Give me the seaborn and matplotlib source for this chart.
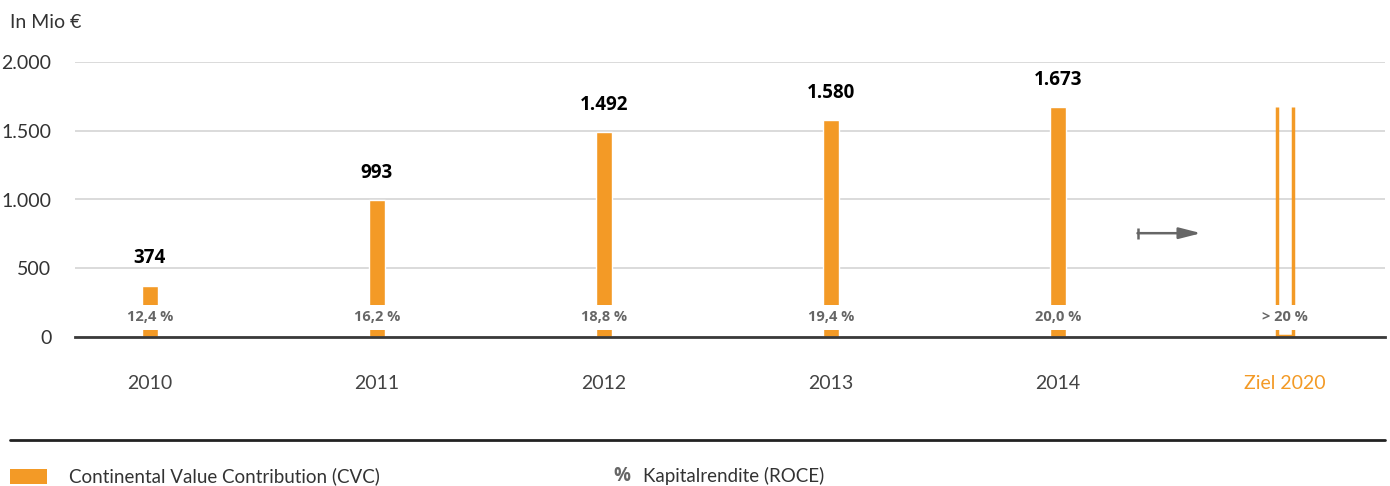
import numpy as np
import matplotlib
matplotlib.use("Agg")
import matplotlib.pyplot as plt
from matplotlib.patches import Rectangle
from matplotlib.lines import Line2D
import seaborn as sns

years = ["2010", "2011", "2012", "2013", "2014", "Ziel 2020"]
cvc = [374, 993, 1492, 1580, 1673, np.nan]
cvc_labels = ["374", "993", "1.492", "1.580", "1.673", ""]
roce_labels = ["12,4 %", "16,2 %", "18,8 %", "19,4 %", "20,0 %", "> 20 %"]
target_height = 1673
yticks = [0, 500, 1000, 1500, 2000]
ytick_labels = ["0", "500", "1.000", "1.500", "2.000"]

ORANGE = "#f39a26"
GREY = "#666666"
BOLD_FONT = ["Open Sans", "DejaVu Sans"]

sns.set_theme(style="white")
plt.rcParams["font.family"] = ["Lato", "DejaVu Sans"]

fig = plt.figure(figsize=(13.9, 4.86), dpi=100)
ax = fig.add_axes([75 / 1390, 1 - 337 / 486, 1310 / 1390, 275 / 486])

bar_w = 0.072
sns.barplot(x=years, y=cvc, order=years, color=ORANGE, width=bar_w,
            saturation=1, ax=ax, zorder=2)

# target outline (open at the top)
tx = len(years) - 1
ax.vlines([tx - bar_w / 2, tx + bar_w / 2], 0, target_height, color=ORANGE, lw=2.5, zorder=2)
ax.hlines(8, tx - bar_w / 2, tx + bar_w / 2, color=ORANGE, lw=2.5, zorder=2)

# arrow to target
ax.annotate("", xy=(4.63, 755), xytext=(4.35, 755),
            arrowprops=dict(arrowstyle="-|>,head_length=1.1,head_width=0.28",
                            color=GREY, lw=1.8, shrinkA=0, shrinkB=0))
ax.vlines(4.35, 715, 795, color=GREY, lw=1.8)

for i, v in enumerate(cvc):
    if not np.isnan(v):
        ax.text(i, v + 125, cvc_labels[i], ha="center", va="bottom", fontsize=13.5,
                fontweight="bold", color="black", family=BOLD_FONT)
    ax.text(i, 145, roce_labels[i], ha="center", va="center", fontsize=10.5,
            fontweight="bold", color=GREY, zorder=3, family=BOLD_FONT,
            bbox=dict(facecolor="white", edgecolor="none", pad=4))

ax.set_xlim(-0.33, 5.44)
ax.set_ylim(0, 2000)
ax.set_yticks(yticks)
ax.set_yticklabels(ytick_labels)
ax.yaxis.grid(True, color="#d4d4d4", lw=1.2, zorder=0)
ax.set_axisbelow(True)
for s in ["top", "right", "left"]:
    ax.spines[s].set_visible(False)
ax.spines["bottom"].set_color("#3a3a3a")
ax.spines["bottom"].set_linewidth(2)
ax.tick_params(axis="y", length=0, pad=17, labelsize=14, labelcolor="#333333")
ax.tick_params(axis="x", length=0, pad=27, labelsize=14, labelcolor="#444444")
ax.get_xticklabels()[-1].set_color(ORANGE)
ax.set_xlabel("")
ax.set_ylabel("")

fig.text(10 / 1390, 1 - 22 / 486, "In Mio €", fontsize=14, color="#333333", va="center")

# bottom rule and legend
fig.add_artist(Line2D([10 / 1390, 1385 / 1390], [1 - 440 / 486] * 2, color="#222222", lw=2))
fig.add_artist(Rectangle((10 / 1390, 1 - 484 / 486), 37 / 1390, 15 / 486,
                         facecolor=ORANGE, edgecolor="none", transform=fig.transFigure))
fig.text(69 / 1390, 1 - 476 / 486, "Continental Value Contribution (CVC)", fontsize=13.5,
         color="#333333", va="center")
fig.text(613 / 1390, 1 - 476 / 486, "%", fontsize=13.5, fontweight="bold", color=GREY,
         va="center", family=BOLD_FONT)
fig.text(643 / 1390, 1 - 476 / 486, "Kapitalrendite (ROCE)", fontsize=13.5,
         color="#333333", va="center")

fig.savefig("out.png", dpi=100)
